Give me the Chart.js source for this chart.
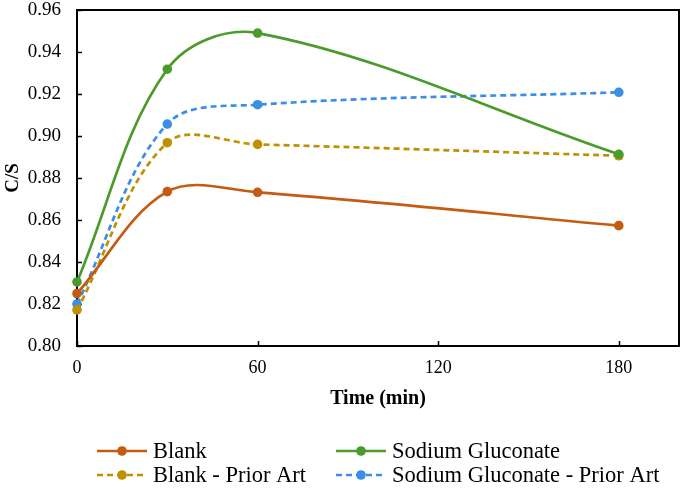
<!DOCTYPE html>
<html>
<head>
<meta charset="utf-8">
<script src="https://cdn.jsdelivr.net/npm/chart.js@4/dist/chart.umd.min.js"></script>
<style>
  html, body { margin: 0; padding: 0; background: #fff; }
  #wrap { width: 685px; height: 488px; position: relative; }
</style>
</head>
<body>
<div id="wrap"><canvas id="c" width="685" height="488"></canvas></div>
<script>
/* C/S vs time — four series, Excel-style smoothed lines */

const timeMin = [0, 30, 60, 180];
const xTicks = [0, 60, 120, 180];
const yTicks = [0.80, 0.82, 0.84, 0.86, 0.88, 0.90, 0.92, 0.94, 0.96];

const seriesNames = ["Blank", "Sodium Gluconate", "Blank - Prior Art", "Sodium Gluconate - Prior Art"];
const blank = [0.825, 0.8735, 0.8732, 0.8573];
const sodiumGluconate = [0.8305, 0.9318, 0.949, 0.8913];
const blankPrior = [0.8172, 0.8968, 0.896, 0.8906];
const sodiumGluconatePrior = [0.820, 0.9057, 0.9149, 0.9208];

const colors = ["#C55A11", "#4A9B2B", "#BF9000", "#3A8EE6"];
const dashed = [false, false, true, true];
const serif = "'Liberation Serif', 'Times New Roman', serif";

const allSeries = [blank, sodiumGluconate, blankPrior, sodiumGluconatePrior];

const datasets = allSeries.map((vals, i) => ({
  label: seriesNames[i],
  data: vals.map((v, k) => ({ x: timeMin[k], y: v })),
  borderColor: colors[i],
  backgroundColor: colors[i],
  borderWidth: 2.7,
  borderDash: dashed[i] ? [6, 4] : [],
  pointRadius: 4.8,
  pointBorderWidth: 0,
  tension: 0.35,
  clip: false,
}));

// plot frame + inward tick marks, drawn under the lines
const framePlugin = {
  id: "frame",
  beforeDatasetsDraw(chart) {
    const { ctx, chartArea: a, scales } = chart;
    ctx.save();
    ctx.strokeStyle = "#000";
    ctx.lineWidth = 2;
    ctx.strokeRect(a.left, a.top, a.right - a.left, a.bottom - a.top);
    ctx.beginPath();
    yTicks.forEach(v => {
      const y = Math.round(scales.y.getPixelForValue(v)) + 0.5;
      ctx.moveTo(a.left, y);
      ctx.lineTo(a.left + 5, y);
    });
    xTicks.forEach(v => {
      const x = Math.round(scales.x.getPixelForValue(v)) + 0.5;
      ctx.moveTo(x, a.bottom);
      ctx.lineTo(x, a.bottom - 5);
    });
    ctx.lineWidth = 1.5;
    ctx.stroke();
    ctx.restore();
  },
};

// two-column legend below the axis title
const legendPlugin = {
  id: "gridLegend",
  afterDraw(chart) {
    const { ctx } = chart;
    const colX = [97, 336];
    const rowY = [451, 475];
    ctx.save();
    ctx.font = "22.5px " + serif;
    ctx.textBaseline = "middle";
    chart.data.datasets.forEach((ds, i) => {
      const x = colX[i % 2];
      const y = rowY[Math.floor(i / 2)];
      ctx.strokeStyle = ds.borderColor;
      ctx.lineWidth = 2.7;
      ctx.setLineDash(ds.borderDash);
      ctx.beginPath();
      ctx.moveTo(x, y);
      ctx.lineTo(x + 50, y);
      ctx.stroke();
      ctx.setLineDash([]);
      ctx.fillStyle = ds.borderColor;
      ctx.beginPath();
      ctx.arc(x + 25, y, 4.8, 0, Math.PI * 2);
      ctx.fill();
      ctx.fillStyle = "#000";
      ctx.fillText(ds.label, x + 56, y + 1);
    });
    ctx.restore();
  },
};

new Chart(document.getElementById("c"), {
  type: "line",
  data: { datasets },
  options: {
    responsive: false,
    animation: false,
    layout: { padding: { left: 0, top: 10, right: 6, bottom: 72 } },
    plugins: { legend: { display: false }, tooltip: { enabled: false } },
    scales: {
      x: {
        type: "linear",
        min: 0,
        max: 200,
        afterBuildTicks: s => { s.ticks = xTicks.map(v => ({ value: v })); },
        afterFit: s => { s.height = 70; },
        grid: { display: false },
        border: { display: false },
        ticks: { color: "#000", font: { family: serif, size: 18 }, padding: 3, maxRotation: 0 },
        title: {
          display: true, text: "Time (min)", color: "#000",
          font: { family: serif, size: 20, weight: "bold" },
          padding: { top: 4, bottom: 5 },
        },
      },
      y: {
        min: 0.80,
        max: 0.96,
        afterBuildTicks: s => { s.ticks = yTicks.map(v => ({ value: v })); },
        afterFit: s => { s.width = 77; s.paddingTop = 0; s.paddingBottom = 0; },
        grid: { display: false },
        border: { display: false },
        ticks: {
          color: "#000", font: { family: serif, size: 19 }, padding: 8,
          callback: v => Number(v).toFixed(2),
        },
        title: {
          display: true, text: "C/S", color: "#000",
          font: { family: serif, size: 19, weight: "bold" },
          padding: { top: 2, bottom: 0 },
        },
      },
    },
  },
  plugins: [framePlugin, legendPlugin],
});
</script>
</body>
</html>
